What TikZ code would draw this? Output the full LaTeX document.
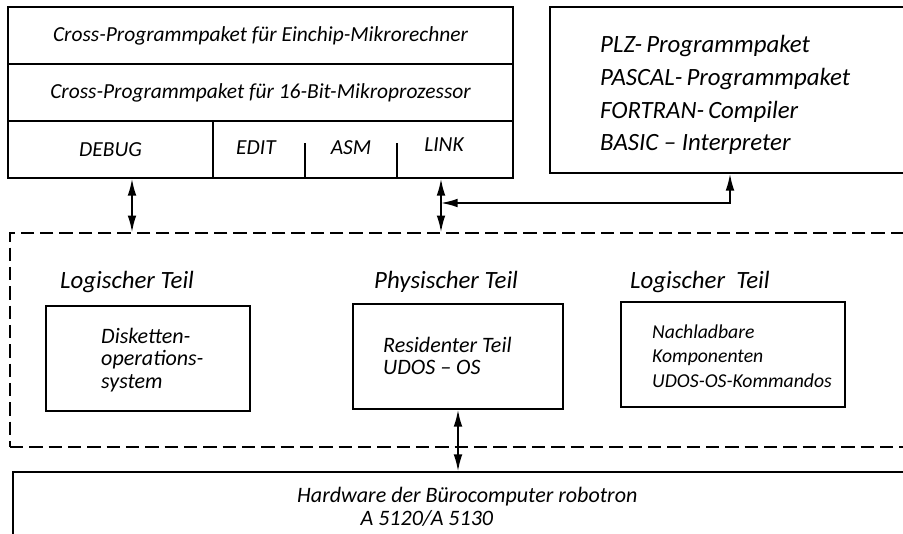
\documentclass[tikz,border=0pt]{standalone}
\usepackage{fontspec}
\setsansfont{Carlito}
\usepackage{tikz}
\usetikzlibrary{arrows.meta}

\begin{document}
\begin{tikzpicture}[x=0.03cm, y=-0.03cm,
    every node/.style={font=\sffamily\itshape\fontsize{18.3}{28}\selectfont},
    cell/.style={rectangle, draw, line width=1.5pt, inner sep=0pt},
    dashbox/.style={rectangle, draw, line width=1.4pt, dash pattern=on 0.4cm off 0.18cm, inner sep=0pt},
    label/.style={anchor=west, inner sep=0pt, font=\sffamily\itshape\fontsize{21.2}{28}\selectfont},
    boxtext/.style={anchor=west, align=left, inner sep=0pt, font=\sffamily\itshape\fontsize{18.8}{19.5}\selectfont},
    arrow/.style={line width=1.4pt, <->, >={Latex[length=5mm,width=2.6mm]}}]
    \useasboundingbox (0,0) rectangle (903,533);
    \clip (0,0) rectangle (903,533);

    % Cross-Programmpakete
    \node [cell, minimum width=15.15cm, minimum height=1.71cm] (einchip) at (260.5,35.5) {Cross-Programmpaket für Einchip-Mikrorechner};
    \node [cell, minimum width=15.15cm, minimum height=1.71cm] (bit16) at (260.5,92.5) {Cross-Programmpaket für 16-Bit-Mikroprozessor};
    \node [cell, minimum width=6.15cm, minimum height=1.71cm] (debug) at (110.5,149.5) {DEBUG};
    \node [cell, minimum width=9cm, minimum height=1.71cm] (tools) at (363,149.5) {};
    \node (edit) at (256,148) {EDIT};
    \node (asm) at (351,148) {ASM};
    \node (link) at (444,145) {LINK};
    \draw [line width=1.5pt] (305,143) -- (305,178);
    \draw [line width=1.5pt] (397,143) -- (397,178);

    % Hochsprachen
    \node [cell, minimum width=11.4cm, minimum height=4.98cm] (lang) at (740,90) {};
    \node [label, align=left] (langtxt) at (600,95) {PLZ-\,Programmpaket\\PASCAL-\,Programmpaket\\FORTRAN-\,Compiler\\BASIC -- Interpreter};

    % Betriebssystem
    \node [dashbox, minimum width=27.6cm, minimum height=6.42cm] (os) at (470,340) {};
    \node [label] (logl) at (60,282) {Logischer Teil};
    \node [label] (phys) at (374,282) {Physischer Teil};
    \node [label] (logr) at (630,282) {Logischer \ Teil};
    \node [cell, minimum width=6.12cm, minimum height=3.15cm] (disk) at (148,358.5) {};
    \node [boxtext] (disktxt) at (101,360) {Disketten-\\operations-\\system};
    \node [cell, minimum width=6.3cm, minimum height=3.15cm] (res) at (458,356.5) {};
    \node [boxtext] (restxt) at (383,356) {Residenter Teil\\UDOS -- OS};
    \node [cell, minimum width=6.72cm, minimum height=3.15cm] (nach) at (733,354.5) {};
    \node [boxtext, font=\sffamily\itshape\fontsize{16.8}{21}\selectfont] (nachtxt) at (652,356) {Nachladbare\\Komponenten\\UDOS-OS-Kommandos};

    % Hardware
    \node [cell, minimum width=27.51cm, minimum height=2.64cm] (hw) at (471.5,516) {};
    \node [boxtext] (hwtxt) at (297,507) {Hardware der Bürocomputer robotron\\\hspace*{1.9cm}A 5120/A 5130};

    \coordinate (dbgx) at (132,0);
    \coordinate (lnkx) at (441,0);
    \coordinate (langx) at (730,0);
    \coordinate (jn) at (441,203);
    \draw [arrow] (debug.south -| dbgx) -- (os.north -| dbgx);
    \draw [arrow] (tools.south -| lnkx) -- (os.north -| lnkx);
    \draw [arrow] (jn) -| (lang.south -| langx);
    \draw [arrow] (res.south) -- (hw.north -| res.south);
\end{tikzpicture}
\end{document}
